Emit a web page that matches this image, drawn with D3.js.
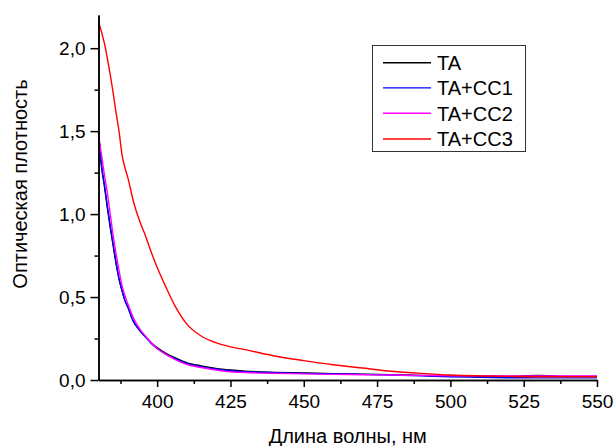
<!DOCTYPE html>
<html>
<head>
<meta charset="utf-8">
<script src="https://cdn.jsdelivr.net/npm/d3@7"></script>
<style>
  html, body { margin: 0; padding: 0; background: #fff; }
  svg { display: block; font-family: "Liberation Sans", Arial, sans-serif; }
</style>
</head>
<body>
<svg id="chart" width="614" height="446"></svg>
<script>
// Wavelength grid, nm
const wavelengths = [380, 381, 382, 383, 384, 385, 386, 387, 388, 389, 390, 392, 394, 396, 398, 400,
  403, 406, 410, 415, 420, 425, 430, 440, 450, 460, 470, 480, 490, 500, 510, 520, 530, 540, 550];

// Optical density of each sample on that grid
const seriesNames = ["TA", "TA+CC1", "TA+CC2", "TA+CC3"];
const seriesColors = ["#000000", "#0000ff", "#ff00ff", "#ff0000"];
const densityTA = [1.49, 1.29, 1.17, 1.04, 0.92, 0.81, 0.70, 0.61, 0.54, 0.48, 0.44, 0.35, 0.30, 0.26, 0.225, 0.195,
  0.16, 0.135, 0.105, 0.085, 0.07, 0.06, 0.053, 0.046, 0.042, 0.038, 0.035, 0.032, 0.028, 0.025, 0.023, 0.022, 0.027, 0.022, 0.022];
const densityCC1 = [1.50, 1.30, 1.18, 1.05, 0.93, 0.82, 0.71, 0.61, 0.54, 0.48, 0.44, 0.35, 0.30, 0.26, 0.22, 0.19,
  0.155, 0.13, 0.10, 0.08, 0.066, 0.056, 0.05, 0.044, 0.04, 0.037, 0.034, 0.03, 0.025, 0.02, 0.016, 0.014, 0.013, 0.013, 0.013];
const densityCC2 = [1.47, 1.36, 1.24, 1.13, 1.00, 0.87, 0.76, 0.66, 0.57, 0.51, 0.46, 0.37, 0.31, 0.265, 0.225, 0.19,
  0.155, 0.125, 0.095, 0.075, 0.06, 0.05, 0.045, 0.04, 0.037, 0.034, 0.032, 0.03, 0.028, 0.026, 0.025, 0.025, 0.025, 0.025, 0.025];
const densityCC3 = [2.16, 2.10, 2.03, 1.94, 1.84, 1.73, 1.61, 1.50, 1.36, 1.28, 1.22, 1.07, 0.96, 0.87, 0.77, 0.68,
  0.56, 0.45, 0.34, 0.265, 0.225, 0.20, 0.183, 0.145, 0.117, 0.092, 0.072, 0.053, 0.04, 0.03, 0.025, 0.022, 0.02, 0.02, 0.02];
const seriesValues = [densityTA, densityCC1, densityCC2, densityCC3];

// Axis ticks
const xMajorTicks = [400, 425, 450, 475, 500, 525, 550];
const xMinorTicks = [387.5, 412.5, 437.5, 462.5, 487.5, 512.5, 537.5];
const yMajorTicks = [0, 0.5, 1.0, 1.5, 2.0];
const yMinorTicks = [0.25, 0.75, 1.25, 1.75];
const xTitle = "Длина волны, нм";
const yTitle = "Оптическая плотность";

(function draw() {
  const svg = d3.select("#chart");
  const plotLeft = 98.5, plotRight = 597, plotTop = 15, plotBottom = 380;

  const x = d3.scaleLinear().domain([380, 550]).range([plotLeft, plotRight]);
  const y = d3.scaleLinear().domain([0, 2.2]).range([plotBottom, plotTop]);

  // Curves
  const line = d3.line()
    .x(d => x(d[0]))
    .y(d => y(d[1]))
    .curve(d3.curveMonotoneX);

  const plot = svg.append("g");
  seriesValues.forEach((vals, i) => {
    plot.append("path")
      .datum(wavelengths.map((w, k) => [w, vals[k]]))
      .attr("fill", "none")
      .attr("stroke", seriesColors[i])
      .attr("stroke-width", 1.4)
      .attr("stroke-linejoin", "round")
      .attr("d", line);
  });

  // Minor ticks
  const xMinor = svg.append("g").attr("transform", `translate(0,${plotBottom})`)
    .call(d3.axisBottom(x).tickValues(xMinorTicks).tickSize(4).tickSizeOuter(0).tickFormat(""));
  const yMinor = svg.append("g").attr("transform", `translate(${plotLeft},0)`)
    .call(d3.axisLeft(y).tickValues(yMinorTicks).tickSize(4).tickSizeOuter(0).tickFormat(""));

  // Major axes
  const xAxis = svg.append("g").attr("transform", `translate(0,${plotBottom})`)
    .call(d3.axisBottom(x).tickValues(xMajorTicks).tickSize(7).tickSizeOuter(0).tickPadding(8)
      .tickFormat(d3.format("d")));
  const yAxis = svg.append("g").attr("transform", `translate(${plotLeft},0)`)
    .call(d3.axisLeft(y).tickValues(yMajorTicks).tickSize(8).tickSizeOuter(0).tickPadding(5)
      .tickFormat(d => d3.format(".1f")(d).replace(".", ",")));

  [xMinor, yMinor, xAxis, yAxis].forEach(g => {
    g.selectAll("path.domain").attr("stroke", "#000").attr("stroke-width", 1.5);
    g.selectAll(".tick line").attr("stroke", "#000").attr("stroke-width", 1.5);
    g.selectAll(".tick text").attr("fill", "#000").style("font-size", "19px")
      .style("font-family", "\"Liberation Sans\", Arial, sans-serif");
  });

  // Axis titles
  svg.append("text")
    .attr("x", (plotLeft + plotRight) / 2).attr("y", 443)
    .attr("text-anchor", "middle")
    .style("font-size", "20px")
    .text(xTitle);
  svg.append("text")
    .attr("transform", "translate(27,184) rotate(-90)")
    .attr("text-anchor", "middle")
    .style("font-size", "20px")
    .text(yTitle);

  // Legend
  const legend = svg.append("g");
  legend.append("rect")
    .attr("x", 372.5).attr("y", 45.5).attr("width", 153).attr("height", 106)
    .attr("fill", "#fff").attr("stroke", "#333").attr("stroke-width", 1);
  const rowY = [62.7, 87.9, 113.3, 139];
  seriesNames.forEach((name, i) => {
    legend.append("line")
      .attr("x1", 383).attr("x2", 431).attr("y1", rowY[i]).attr("y2", rowY[i])
      .attr("stroke", seriesColors[i]).attr("stroke-width", 1.4);
    legend.append("text")
      .attr("x", 437).attr("y", rowY[i]).attr("dy", "0.36em")
      .style("font-size", "20px")
      .text(name);
  });
})();
</script>
</body>
</html>
